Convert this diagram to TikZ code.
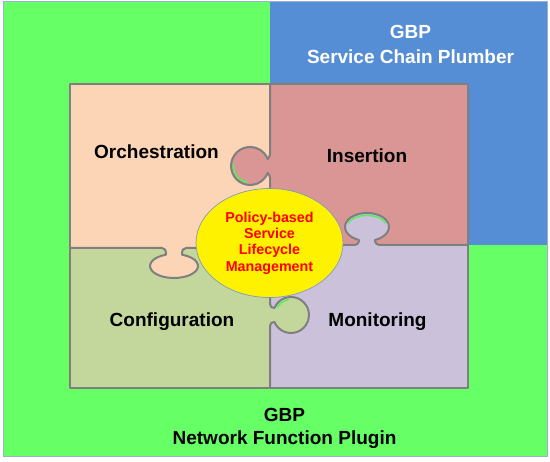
\documentclass[tikz,border=0pt]{standalone}
\usepackage{fontspec}
\setmainfont{Liberation Sans}
\usetikzlibrary{shapes.geometric}
\definecolor{bggreen}{HTML}{66FF66}
\definecolor{hlgreen}{HTML}{55F060}
\definecolor{scpblue}{HTML}{558ED5}
\definecolor{orchcol}{HTML}{FBD5B5}
\definecolor{inscol}{HTML}{D99694}
\definecolor{confcol}{HTML}{C3D69B}
\definecolor{moncol}{HTML}{CCC1DA}
\definecolor{edgegray}{HTML}{7F7F7F}
\definecolor{framecol}{HTML}{9AAFD6}
\definecolor{ellborder}{HTML}{7F9AC0}
\begin{document}
\begin{tikzpicture}[x=1pt,y=-1pt,
  piece/.style={draw=edgegray, line width=2pt, line join=round, line cap=round},
  hl/.style={draw=hlgreen, line width=1.5pt, line cap=round},
  lbl/.style={font=\fontsize{19}{24}\selectfont\bfseries, inner sep=0pt, anchor=base},
  multi/.style={align=center, inner sep=0pt}]
\useasboundingbox (0,0) rectangle (550,462);
\fill[white] (0,0) rectangle (550,462);
\fill[bggreen] (3,2) rectangle (547.5,457);
\fill[scpblue] (270,2) rectangle (547.5,245);
\draw[framecol, line width=1pt] (3,2) rectangle (547.5,457);
% piece bodies
\fill[orchcol] (70,84) rectangle (270,248);
\fill[inscol] (270,84) rectangle (468,245);
\fill[confcol] (70,248) rectangle (270,388);
\fill[moncol] (270,245) rectangle (468,388);
% tabs
\fill[inscol] (270,154) .. controls (270,157) and (268.5,158) .. (267.7,159) arc[start angle=-21.6, end angle=-338.4, radius=19] .. controls (268.5,174) and (270,175) .. (270,178) -- cycle;
\fill[orchcol] (162,248) .. controls (165,248) and (166,250) .. (166,254.7) arc[start angle=-109.5, end angle=-430.5, x radius=24, y radius=12] .. controls (182,250) and (183,248) .. (186,248) -- cycle;
\fill[moncol] (353,245) .. controls (357,245) and (359,243.5) .. (359,240) arc[start angle=111.3, end angle=428.7, x radius=22, y radius=14] .. controls (375,243.5) and (377,245) .. (381,245) -- cycle;
\fill[confcol] (270,304) .. controls (270,307) and (272,308) .. (274.4,308) arc[start angle=-157.1, end angle=157.1, radius=18] .. controls (272,322) and (270,323) .. (270,326) -- cycle;
% green gaps
\draw[hl] (250,166) ++(-172:16.6) arc[start angle=-172, end angle=-262, radius=16.6];
\draw[hl] (367,227) ++(200:19.6 and 11.6) arc[start angle=200, end angle=340, x radius=19.6, y radius=11.6];
\draw[hl] (291,315) ++(-150:15.6) arc[start angle=-150, end angle=-100, radius=15.6];
% outlines
\draw[piece] (70,84) rectangle (468,388);
\draw[piece] (270,84) -- (270,154) .. controls (270,157) and (268.5,158) .. (267.7,159) arc[start angle=-21.6, end angle=-338.4, radius=19] .. controls (268.5,174) and (270,175) .. (270,178) -- (270,304) .. controls (270,307) and (272,308) .. (274.4,308) arc[start angle=-157.1, end angle=157.1, radius=18] .. controls (272,322) and (270,323) .. (270,326) -- (270,388);
\draw[piece] (70,248) -- (162,248) .. controls (165,248) and (166,250) .. (166,254.7) arc[start angle=-109.5, end angle=-430.5, x radius=24, y radius=12] .. controls (182,250) and (183,248) .. (186,248) -- (270,248);
\draw[piece] (270,245) -- (353,245) .. controls (357,245) and (359,243.5) .. (359,240) arc[start angle=111.3, end angle=428.7, x radius=22, y radius=14] .. controls (375,243.5) and (377,245) .. (381,245) -- (468,245);
% centre ellipse
\node[ellipse, fill=yellow, draw=ellborder, line width=0.7pt, minimum width=147pt, minimum height=109pt, inner sep=0pt, align=center, text=red, font=\fontsize{14.3}{16.4}\selectfont\bfseries] (core) at (269.5,243) {Policy-based\\Service\\Lifecycle\\Management};
% labels
\node[lbl] (orch) at (156.5,159) {Orchestration};
\node[lbl] (ins) at (367,163) {Insertion};
\node[lbl] (conf) at (172,327) {Configuration};
\node[lbl] (mon) at (377.5,327) {Monitoring};
\node[multi, text=white, font=\fontsize{19}{24.5}\selectfont\bfseries] (scp) at (410.5,44.4) {GBP\\Service Chain Plumber};
\node[multi, font=\fontsize{19}{23.5}\selectfont\bfseries] (nfp) at (284.5,428.6) {GBP\\Network Function Plugin};
\end{tikzpicture}
\end{document}
